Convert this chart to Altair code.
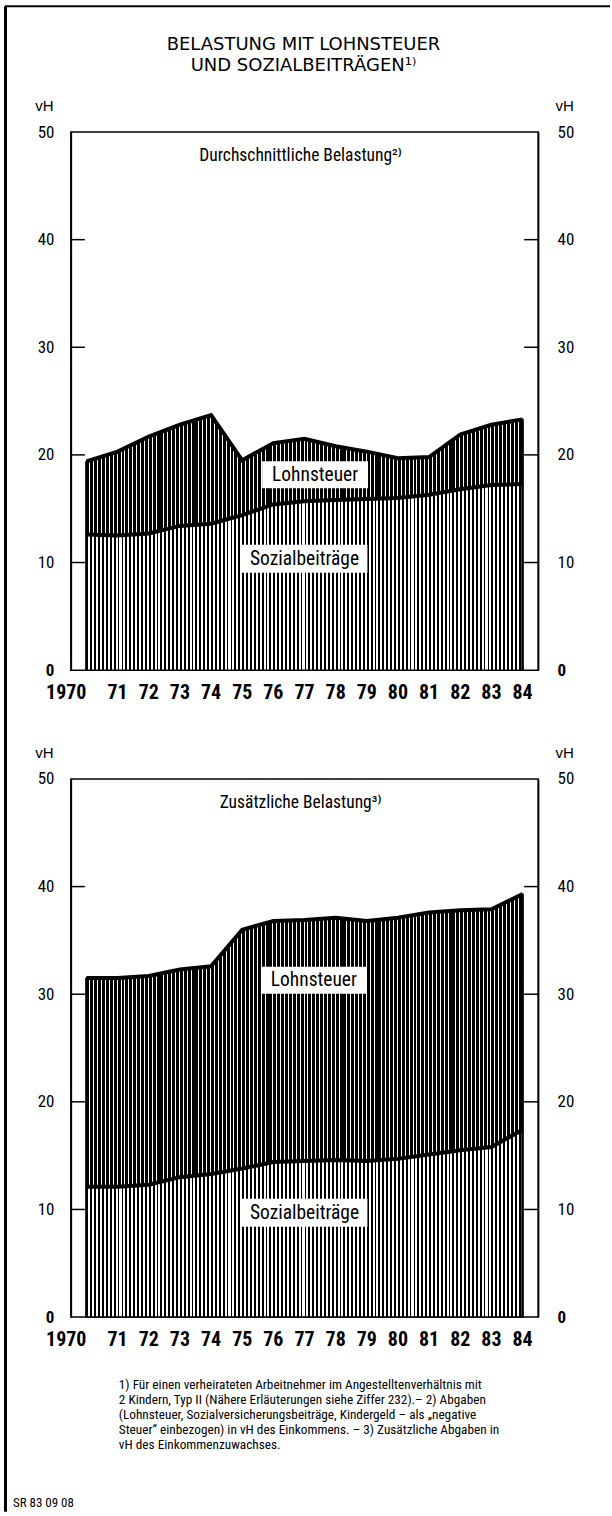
import altair as alt
import pandas as pd

# ---------------------------------------------------------------------------
# Daten
# ---------------------------------------------------------------------------
jahre = [1970, 1971, 1972, 1973, 1974, 1975, 1976, 1977,
         1978, 1979, 1980, 1981, 1982, 1983, 1984]
jahr_labels = ["1970", "71", "72", "73", "74", "75", "76", "77",
               "78", "79", "80", "81", "82", "83", "84"]

# Durchschnittliche Belastung, vH des Einkommens
durchschnitt_sozial = [12.6, 12.5, 12.7, 13.4, 13.6, 14.4, 15.4, 15.7,
                       15.8, 15.9, 16.0, 16.3, 16.8, 17.2, 17.3]
durchschnitt_gesamt = [19.4, 20.3, 21.7, 22.8, 23.7, 19.5, 21.1, 21.5,
                       20.8, 20.3, 19.7, 19.8, 21.9, 22.8, 23.3]

# Zusätzliche Belastung, vH des Einkommenszuwachses
zusatz_sozial = [12.1, 12.1, 12.3, 13.0, 13.3, 13.8, 14.4, 14.5,
                 14.6, 14.5, 14.7, 15.1, 15.5, 15.8, 17.4]
zusatz_gesamt = [31.5, 31.5, 31.7, 32.3, 32.6, 36.0, 36.8, 36.9,
                 37.1, 36.8, 37.1, 37.6, 37.8, 37.9, 39.3]

y_ticks = [0, 10, 20, 30, 40, 50]
inner_ticks = [10, 20, 30, 40]

titel = ["BELASTUNG MIT LOHNSTEUER", "UND SOZIALBEITRÄGEN¹⁾"]
fussnote = [
    "1) Für einen verheirateten Arbeitnehmer im Angestelltenverhältnis mit",
    "2 Kindern, Typ II (Nähere Erläuterungen siehe Ziffer 232).– 2) Abgaben",
    "(Lohnsteuer, Sozialversicherungsbeiträge, Kindergeld – als „negative",
    "Steuer“ einbezogen) in vH des Einkommens. – 3) Zusätzliche Abgaben in",
    "vH des Einkommenzuwachses.",
]
quelle = "SR 83 09 08"

# ---------------------------------------------------------------------------
# Gestaltung
# ---------------------------------------------------------------------------
W, H = 468, 539
NARROW = "Roboto Condensed, Liberation Sans Narrow, Liberation Sans, Arial, sans-serif"
SANS = "Liberation Sans, Arial, sans-serif"
TITLE_FONT = "DejaVu Sans, sans-serif"
N_STRIPES = 112


def stripes(black_share):
    """Vertical hatch as a hard-stop horizontal gradient."""
    stops = []
    for i in range(N_STRIPES):
        a = i / N_STRIPES
        b = (i + black_share) / N_STRIPES
        c = (i + 1) / N_STRIPES
        stops += [
            alt.GradientStop(offset=a, color="black"),
            alt.GradientStop(offset=b, color="black"),
            alt.GradientStop(offset=b, color="white"),
            alt.GradientStop(offset=c, color="white"),
        ]
    return alt.LinearGradient(gradient="linear", stops=stops,
                              x1=0, x2=1, y1=0, y2=0)


FILL_SOZIAL = stripes(0.48)
FILL_LOHN = stripes(0.76)

x_scale = alt.Scale(domain=[1970, 1985], nice=False, zero=False)
y_scale = alt.Scale(domain=[0, 50], nice=False, zero=True)

x_axis = alt.Axis(values=list(range(1970, 1986)), labels=False, title=None,
                  tickSize=7, tickWidth=1.5, tickColor="black",
                  domainColor="black", domainWidth=3, grid=False)


def y_axis(orient):
    left = orient == "left"
    return alt.Axis(
        orient=orient, values=y_ticks, tickSize=0,
        labelPadding=17 if left else 19, grid=False,
        domainColor="black", domainWidth=1.5,
        labelFont=NARROW, labelFontSize=17, labelColor="black",
        labelFontWeight={"condition": {"test": "datum.value === 0",
                                       "value": "bold"},
                         "value": "normal"},
        title="vH", titleAngle=0, titleFont=SANS, titleFontSize=15,
        titleFontWeight="normal", titleColor="black",
        titleAlign="center", titleBaseline="middle",
        titleX=-27 if left else 26, titleY=-27,
    )


def panel(sozial, gesamt, untertitel, lohn_pos, sozial_pos, extra=()):
    df = pd.DataFrame({"jahr": jahre, "sozial": sozial, "gesamt": gesamt})
    base = alt.Chart(df).transform_calculate(mitte="datum.jahr + 0.5")
    X = alt.X("mitte:Q", scale=x_scale, axis=x_axis)

    unten = base.mark_area(fill=FILL_SOZIAL, stroke="black",
                           strokeWidth=1.5).encode(
        x=X, y=alt.Y("sozial:Q", scale=y_scale, axis=y_axis("left")))
    oben = base.mark_area(fill=FILL_LOHN, stroke="black",
                          strokeWidth=1.5).encode(
        x=X, y=alt.Y("gesamt:Q", scale=y_scale, axis=y_axis("right")),
        y2="sozial:Q")
    linie_gesamt = base.mark_line(color="black", strokeWidth=4).encode(
        x=X, y=alt.Y("gesamt:Q", scale=y_scale, axis=None))
    linie_sozial = base.mark_line(color="black", strokeWidth=4).encode(
        x=X, y=alt.Y("sozial:Q", scale=y_scale, axis=None))
    kanten = base.transform_filter(
        f"datum.jahr == {jahre[0]} || datum.jahr == {jahre[-1]}"
    ).mark_rule(color="black", strokeWidth=2.5).encode(
        x=X, y=alt.Y("gesamt:Q", scale=y_scale, axis=None), y2=alt.datum(0))

    tick_df = pd.DataFrame({"v": inner_ticks})
    ticks_l = alt.Chart(tick_df).mark_rule(color="black", strokeWidth=1.5).encode(
        y=alt.Y("v:Q", scale=y_scale, axis=None),
        x=alt.value(0), x2=alt.value(14))
    ticks_r = alt.Chart(tick_df).mark_rule(color="black", strokeWidth=1.5).encode(
        y=alt.Y("v:Q", scale=y_scale, axis=None),
        x=alt.value(W - 14), x2=alt.value(W))

    # white boxes with the series names
    ann = pd.DataFrame({
        "name": ["Lohnsteuer", "Sozialbeiträge"],
        "xm": [lohn_pos[0], sozial_pos[0]],
        "ym": [lohn_pos[1], sozial_pos[1]],
        "hw": [1.7, 2.02],
        "hh": [1.25, 1.3],
    })
    ann_base = alt.Chart(ann).transform_calculate(
        x1="datum.xm - datum.hw", x2="datum.xm + datum.hw",
        y1="datum.ym - datum.hh", y2="datum.ym + datum.hh")
    boxen = ann_base.mark_rect(fill="white").encode(
        x=alt.X("x1:Q", scale=x_scale, axis=None), x2="x2:Q",
        y=alt.Y("y1:Q", scale=y_scale, axis=None), y2="y2:Q")
    namen = ann_base.mark_text(font=NARROW, fontSize=19.5, color="black",
                               baseline="middle").encode(
        x=alt.X("xm:Q", scale=x_scale, axis=None),
        y=alt.Y("ym:Q", scale=y_scale, axis=None),
        text="name:N")

    sub = alt.Chart(pd.DataFrame({"t": [untertitel]})).mark_text(
        font=NARROW, fontSize=17.5, color="black", baseline="middle").encode(
        x=alt.value(W / 2 - 4), y=alt.value(24), text="t:N")

    lab_df = pd.DataFrame({"jahr": jahre, "label": jahr_labels})
    lab_base = alt.Chart(lab_df).transform_calculate(mitte="datum.jahr + 0.5")
    labels_mid = lab_base.transform_filter(f"datum.jahr > {jahre[0]}").mark_text(
        font=NARROW, fontSize=20, fontWeight="bold", color="black",
        baseline="middle").encode(
        x=alt.X("mitte:Q", scale=x_scale, axis=None),
        y=alt.value(H + 23), text="label:N")
    labels_first = lab_base.transform_filter(f"datum.jahr == {jahre[0]}").mark_text(
        font=NARROW, fontSize=20, fontWeight="bold", color="black",
        baseline="middle", align="right").encode(
        x=alt.X("mitte:Q", scale=x_scale, axis=None),
        y=alt.value(H + 23), text="label:N")

    layers = list(extra) + [unten, oben, linie_gesamt, linie_sozial, kanten,
                            ticks_l, ticks_r, boxen, namen, sub,
                            labels_mid, labels_first]
    return alt.layer(*layers).resolve_axis(y="independent").properties(
        width=W, height=H)


# page frame and heading, drawn around the upper panel
one = pd.DataFrame({"k": [0]})
anker = alt.Chart(one).mark_rule(color="white", strokeWidth=1).encode(
    x=alt.value(-69.5), x2=alt.value(-60), y=alt.value(-129.5))
rand_oben = alt.Chart(one).mark_rule(color="black", strokeWidth=2).encode(
    x=alt.value(-66), x2=alt.value(540), y=alt.value(-126))
rand_links = alt.Chart(one).mark_rule(color="black", strokeWidth=3).encode(
    x=alt.value(-65.5), y=alt.value(-126), y2=alt.value(1382))
titel_oben = alt.Chart(one).mark_text(
    font=TITLE_FONT, fontSize=18, color="black", baseline="middle").encode(
    x=alt.value(233), y=alt.value(-87), text=alt.value(titel[0]))
titel_unten = alt.Chart(one).mark_text(
    font=TITLE_FONT, fontSize=18, color="black", baseline="middle").encode(
    x=alt.value(233), y=alt.value(-66), text=alt.value(titel[1]))

oben_panel = panel(durchschnitt_sozial, durchschnitt_gesamt,
                   "Durchschnittliche Belastung²⁾",
                   (1977.84, 18.15), (1977.5, 10.35),
                   extra=(anker, rand_oben, rand_links, titel_oben, titel_unten))

fuss = alt.Chart(one).mark_text(
    font=NARROW, fontSize=13.3, color="black", align="left", baseline="middle",
    lineHeight=15).encode(
    x=alt.value(48), y=alt.value(H + 68), text=alt.value(fussnote))
quelle_text = alt.Chart(one).mark_text(
    font=NARROW, fontSize=13, color="black", align="left",
    baseline="middle").encode(
    x=alt.value(-58), y=alt.value(H + 186), text=alt.value(quelle))

unten_panel = panel(zusatz_sozial, zusatz_gesamt,
                    "Zusätzliche Belastung³⁾",
                    (1977.8, 31.3), (1977.5, 9.7),
                    extra=(fuss, quelle_text))

chart = alt.vconcat(oben_panel, unten_panel, spacing=109,
                    bounds="flush").properties(
    padding=0, background="white",
    autosize=alt.AutoSizeParams(type="pad"),
).configure_view(stroke="black", strokeWidth=1.5)

chart.save("out.html", embed_options={"renderer": "svg", "actions": False})
